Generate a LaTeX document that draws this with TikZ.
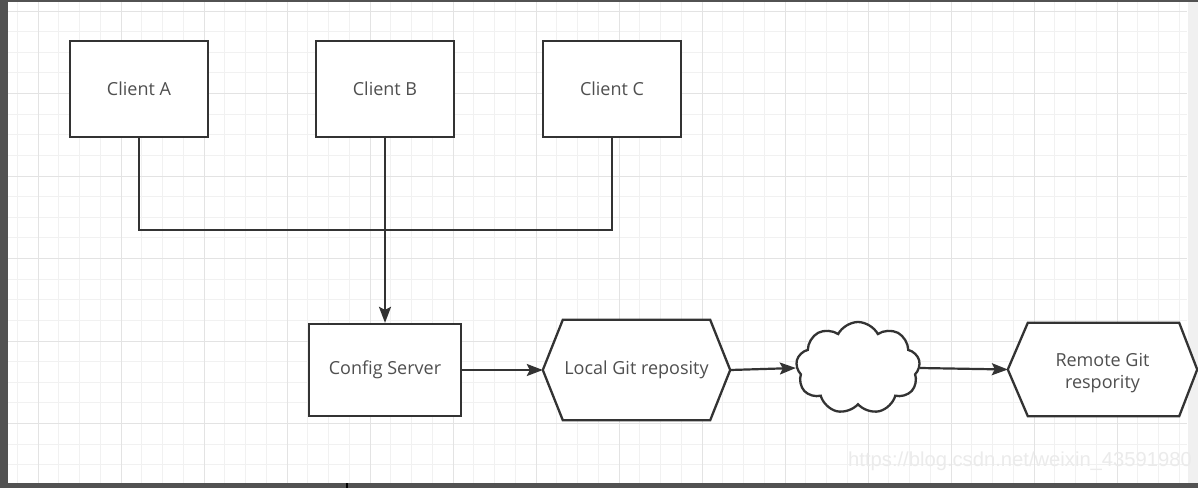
\documentclass[tikz,border=0pt]{standalone}
\usepackage{fontspec}
\setmainfont{Open Sans}
\newfontfamily\wmfont{Liberation Sans}
\usetikzlibrary{arrows.meta,shapes.symbols,calc}
\definecolor{ink}{HTML}{333333}
\definecolor{txt}{HTML}{4F4F4F}
\definecolor{gridminor}{HTML}{F1F1F1}
\definecolor{gridmajor}{HTML}{E3E3E3}
\definecolor{frame}{HTML}{525252}
\definecolor{sidebar}{HTML}{F0F0F0}
\tikzset{
  box/.style={draw=ink, line width=2.3pt, fill=white, text=txt, inner sep=0pt,
    font=\fontsize{18}{22}\selectfont, align=center},
  hexbody/.style={draw=none, fill=none, text=txt, inner sep=0pt,
    font=\fontsize{18}{22}\selectfont, align=center},
  hexline/.style={draw=ink, line width=2.3pt, fill=white, line join=miter},
  conn/.style={draw=ink, line width=2.2pt},
  arr/.style={conn, -{Stealth[length=16pt,width=12pt,inset=3pt]}},
}
\begin{document}
\begin{tikzpicture}[x=1pt,y=-1pt]
\useasboundingbox (0,0) rectangle (1198,488);
% background and grid
\fill[white] (0,0) rectangle (1198,488);
\foreach \i in {-1,...,55} {
  \pgfmathsetmacro{\xx}{38+20.75*\i}
  \ifdim \xx pt < 1187pt \draw[gridminor, line width=1pt] (\xx,2) -- (\xx,483); \fi
}
\foreach \i in {0,...,24} {
  \pgfmathsetmacro{\yy}{11+20.63*\i}
  \draw[gridminor, line width=1pt] (8,\yy) -- (1187,\yy);
}
\foreach \i in {0,...,13} {
  \pgfmathsetmacro{\xx}{38+83*\i}
  \ifdim \xx pt < 1187pt \draw[gridmajor, line width=1pt] (\xx,2) -- (\xx,483); \fi
}
\foreach \i in {0,...,5} {
  \pgfmathsetmacro{\yy}{11+82.5*\i}
  \draw[gridmajor, line width=1pt] (8,\yy) -- (1187,\yy);
}
% window frame
\fill[frame] (0,0) rectangle (8,488);
\fill[frame] (0,0) rectangle (1198,2);
\fill[frame] (0,483) rectangle (1198,488);
\fill[sidebar] (1188,2) rectangle (1198,483);
\draw[black, line width=1.5pt] (347,483) -- (347,488);

% clients
\node[box, minimum width=138, minimum height=96] (ca) at (139,89) {Client A};
\node[box, minimum width=138, minimum height=96] (cb) at (385,89) {Client B};
\node[box, minimum width=138, minimum height=96] (cc) at (612,89) {Client C};

% config server
\node[box, minimum width=152, minimum height=92] (cs) at (385,370) {Config Server};

% local git (hexagon)
\node[hexbody, minimum width=187, minimum height=100] (lg) at (636.5,370) {};
\draw[hexline] ($(lg.north west)+(20,0)$) -- ($(lg.north east)+(-20,0)$) -- (lg.east)
  -- ($(lg.south east)+(-20,0)$) -- ($(lg.south west)+(20,0)$) -- (lg.west) -- cycle;
\node[hexbody] at (lg.center) {Local Git reposity};

% cloud
\node[cloud, draw=ink, line width=2.3pt, fill=white, cloud puffs=9, cloud puff arc=125,
  aspect=1.35, inner sep=0pt, minimum width=124, minimum height=92] (cl) at (858,368) {};

% remote git (hexagon)
\node[hexbody, minimum width=189, minimum height=93] (rg) at (1102.5,369.5) {};
\draw[hexline] ($(rg.north west)+(20,0)$) -- ($(rg.north east)+(-18,0)$) -- (rg.east)
  -- ($(rg.south east)+(-18,0)$) -- ($(rg.south west)+(20,0)$) -- (rg.west) -- cycle;
\node[hexbody] at ($(rg.center)+(0,4)$) {Remote Git\\respority};

% connectors
\coordinate (bus) at (385,230);
\draw[conn] (ca.south) |- (bus) -| (cc.south);
\draw[arr] (cb.south) -- (cs.north);
\draw[arr] (cs.east) -- (lg.west);
\draw[arr] (lg.east) -- (cl.west);
\draw[arr] (cl.east) -- (rg.west);

% watermark
\node[anchor=west, text=black!8, inner sep=0pt, font=\wmfont\fontsize{20.2}{24}\selectfont] (wm) at (848,461) {https://blog.csdn.net/weixin\_43591980};
\end{tikzpicture}
\end{document}
